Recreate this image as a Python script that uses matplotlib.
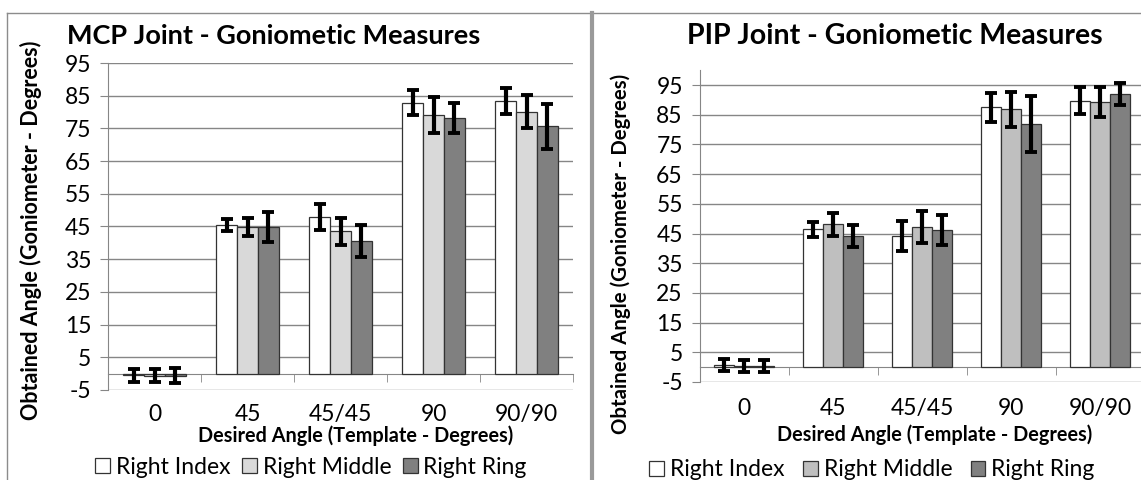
import numpy as np
import matplotlib.pyplot as plt
from matplotlib.lines import Line2D

plt.rcParams['font.family'] = ['Lato', 'DejaVu Sans']
plt.rcParams['axes.unicode_minus'] = False

# Kategoriler
categories = ['0', '45', '45/45', '90', '90/90']
series_names = ['Right Index', 'Right Middle', 'Right Ring']

# MCP eklemi - ortalamalar ve hata (std)
mcp_index = [-0.5, 45.5, 47.9, 82.8, 83.3]
mcp_middle = [-0.6, 44.8, 43.5, 79.1, 80.1]
mcp_ring = [-0.6, 44.9, 40.7, 78.1, 75.6]
mcp_index_err = [2.0, 1.8, 4.0, 3.8, 4.0]
mcp_middle_err = [2.0, 2.8, 4.1, 5.5, 5.0]
mcp_ring_err = [2.2, 4.5, 4.9, 4.6, 7.0]

# PIP eklemi
pip_index = [0.8, 46.4, 44.2, 87.5, 89.7]
pip_middle = [0.3, 48.1, 47.2, 86.9, 89.2]
pip_ring = [0.3, 44.2, 46.3, 81.9, 92.0]
pip_index_err = [2.0, 2.6, 5.0, 4.9, 4.5]
pip_middle_err = [2.0, 3.8, 5.3, 5.9, 5.0]
pip_ring_err = [2.0, 3.8, 5.0, 9.4, 3.8]

W, H = 1141, 480
grid_col = '#868686'
edge_col = '#333333'


def fx(x):
    return x / W


def fy(y):
    return 1 - y / H


def draw_panel(ax, vals, errs, colors, ymax, title, tfs, tx, xl, yl, yfs, leg, colsp):
    x = np.arange(len(categories))
    w = 0.225
    handles = []
    for j, (v, e, c) in enumerate(zip(vals, errs, colors)):
        b = ax.bar(x + (j - 1) * w, v, w, color=c, edgecolor=edge_col, linewidth=0.9, zorder=3)
        ax.errorbar(x + (j - 1) * w, v, yerr=e, fmt='none', ecolor='black',
                    elinewidth=3.0, capsize=4.6, capthick=2.8, zorder=4)
        handles.append(b)
    ax.set_xlim(-0.5, len(categories) - 0.5)
    ax.set_ylim(-5, ymax)
    ax.set_yticks(np.arange(-5, 96, 10))
    ax.yaxis.grid(True, color=grid_col, linewidth=1.0, zorder=0)
    ax.set_axisbelow(True)
    for s in ['top', 'right']:
        ax.spines[s].set_visible(False)
    ax.spines['left'].set_color(grid_col)
    ax.spines['bottom'].set_color(grid_col)
    ax.spines['bottom'].set_position(('data', 0))
    ax.spines['bottom'].set_zorder(2)
    ax.set_xticks(x)
    ax.set_xticklabels(categories)
    ax.set_xticks(np.arange(-0.5, len(categories), 1), minor=True)
    ax.tick_params(axis='x', which='major', length=0, pad=22, labelsize=16.5)
    ax.tick_params(axis='x', which='minor', length=6, color=grid_col, direction='out')
    ax.tick_params(axis='y', length=6, color=grid_col, labelsize=16.5, pad=6)
    fig.text(fx(tx), fy(36), title, ha='center', va='center', fontsize=tfs, fontweight='bold')
    fig.text(fx(xl[0]), fy(xl[1]), 'Desired Angle (Template - Degrees)', ha='center', va='center',
             fontsize=14.3, fontweight='bold')
    fig.text(fx(yl[0]), fy(yl[1]), 'Obtained Angle (Goniometer - Degrees)', ha='center', va='center',
             rotation=90, fontsize=yfs, fontweight='bold')
    fig.legend(handles, series_names, loc='center', bbox_to_anchor=(fx(leg[0]), fy(leg[1])),
               ncol=3, frameon=False, fontsize=16.5, handlelength=0.65, handleheight=0.65,
               handletextpad=0.25, columnspacing=colsp, borderpad=0, borderaxespad=0)


fig = plt.figure(figsize=(W / 100, H / 100), dpi=100)

ax1 = fig.add_axes([fx(108), fy(390), fx(573) - fx(108), fy(63) - fy(390)])
draw_panel(ax1, [mcp_index, mcp_middle, mcp_ring],
           [mcp_index_err, mcp_middle_err, mcp_ring_err],
           ['white', '#d9d9d9', '#808080'], 95,
           'MCP Joint - Goniometic Measures', 19.5, 274, (356, 436), (31, 230), 15.5, (311, 467), 0.5)

ax2 = fig.add_axes([fx(699.5), fy(382), fx(1144.5) - fx(699.5), fy(70.2) - fy(382)])
draw_panel(ax2, [pip_index, pip_middle, pip_ring],
           [pip_index_err, pip_middle_err, pip_ring_err],
           ['white', '#bfbfbf', '#808080'], 100,
           'PIP Joint - Goniometic Measures', 20.5, 895, (935, 435), (621, 254), 14.7, (872, 470), 0.8)

# Panel cerceveleri
fig.add_artist(Line2D([fx(7), fx(W)], [fy(12.7), fy(12.7)], transform=fig.transFigure,
                      color='#8c8c8c', linewidth=1.0))
fig.add_artist(Line2D([fx(7), fx(7)], [fy(12.7), fy(H)], transform=fig.transFigure,
                      color='#8c8c8c', linewidth=1.0))
fig.add_artist(Line2D([fx(592), fx(592)], [fy(12.7), fy(H)], transform=fig.transFigure,
                      color='#9a9a9a', linewidth=3.0))

fig.savefig('out.png', dpi=100)
